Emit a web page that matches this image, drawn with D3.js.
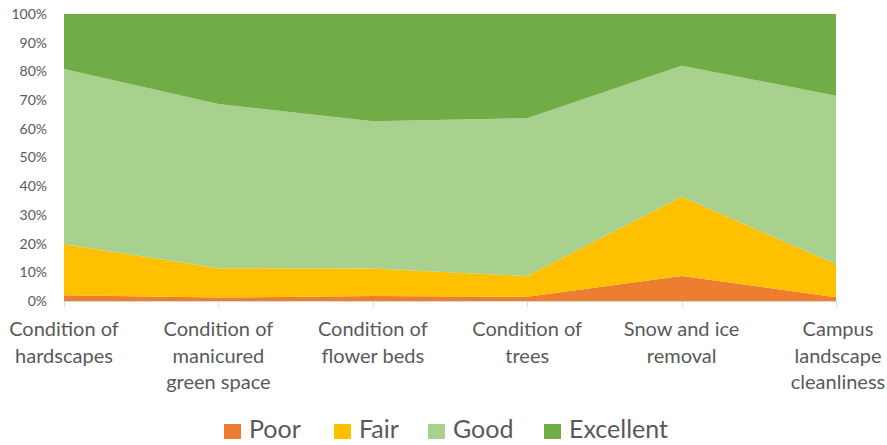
<!DOCTYPE html>
<html><head><meta charset="utf-8">
<script src="https://cdn.jsdelivr.net/npm/d3@7"></script>
<style>body{margin:0;background:#fff;} svg{display:block;}</style>
</head><body>
<svg id="c" width="887" height="445"></svg>
<script>
const categories = [
  ["Condition of","hardscapes"],
  ["Condition of","manicured","green space"],
  ["Condition of","flower beds"],
  ["Condition of","trees"],
  ["Snow and ice","removal"],
  ["Campus","landscape","cleanliness"]
];
const seriesNames = ["Poor","Fair","Good","Excellent"];
const poor      = [2.0, 1.2, 1.7, 1.5, 8.7, 1.3];
const fair      = [17.8, 10.2, 9.6, 7.2, 27.6, 11.5];
const good      = [61.0, 57.2, 51.3, 55.0, 45.7, 58.7];
const excellent = [19.2, 31.4, 37.4, 36.3, 18.0, 28.5];
const colors = ["#ED7D31","#FFC000","#A9D18E","#70AD47"];
const yTicks = [0,10,20,30,40,50,60,70,80,90,100];

const font = "Lato, 'Open Sans', sans-serif";
const rows = categories.map((c,i)=>({idx:i, Poor:poor[i], Fair:fair[i], Good:good[i], Excellent:excellent[i]}));
const stack = d3.stack().keys(seriesNames).offset(d3.stackOffsetExpand);
const layers = stack(rows);

const svg = d3.select("#c");
const x = d3.scalePoint().domain(d3.range(categories.length)).range([64, 836]);
const y = d3.scaleLinear().domain([0,1]).range([301, 14]);

// gridlines
svg.append("g").selectAll("line").data(yTicks).join("line")
  .attr("x1",64).attr("x2",836)
  .attr("y1",d=>y(d/100)+0.5).attr("y2",d=>y(d/100)+0.5)
  .attr("stroke","#d9d9d9").attr("stroke-width",1);

const area = d3.area().x(d=>x(d.data.idx)).y0(d=>y(d[0])).y1(d=>y(d[1]));
svg.append("g").selectAll("path").data(layers).join("path")
  .attr("d",area).attr("fill",(d,i)=>colors[i]);

// y labels
svg.append("g").selectAll("text").data(yTicks).join("text")
  .attr("x",47).attr("y",d=>y(d/100)).attr("dy","0.35em")
  .attr("text-anchor","end").attr("font-family",font).attr("font-size",14)
  .attr("fill","#595959").text(d=>d+"%");

// x axis line + ticks
svg.append("line").attr("x1",64).attr("x2",836).attr("y1",301.5).attr("y2",301.5)
  .attr("stroke","#d9d9d9");
svg.append("g").selectAll("line").data(d3.range(categories.length)).join("line")
  .attr("x1",d=>Math.round(x(d))+0.5).attr("x2",d=>Math.round(x(d))+0.5)
  .attr("y1",301).attr("y2",307).attr("stroke","#d9d9d9");

// category labels
const cl = svg.append("g").selectAll("text").data(categories).join("text")
  .attr("text-anchor","middle").attr("font-family",font).attr("font-size",20)
  .attr("fill","#595959")
  .attr("transform",(d,i)=>{
    let cx = x(i);
    if(i===categories.length-1) cx = 838;
    return `translate(${cx},336)`;
  });
cl.selectAll("tspan").data(d=>d).join("tspan")
  .attr("x",0).attr("y",(d,i)=>i*26.5).text(d=>d);

// legend
const legendX = [224, 334, 428, 544];
const lg = svg.append("g").selectAll("g").data(seriesNames).join("g")
  .attr("transform",(d,i)=>`translate(${legendX[i]},438)`);
lg.append("rect").attr("x",0).attr("y",-14).attr("width",17).attr("height",15)
  .attr("fill",(d,i)=>colors[i]);
lg.append("text").attr("x",25).attr("y",0)
  .attr("font-family",font).attr("font-size",25).attr("fill","#595959").text(d=>d);
</script>
</body></html>
